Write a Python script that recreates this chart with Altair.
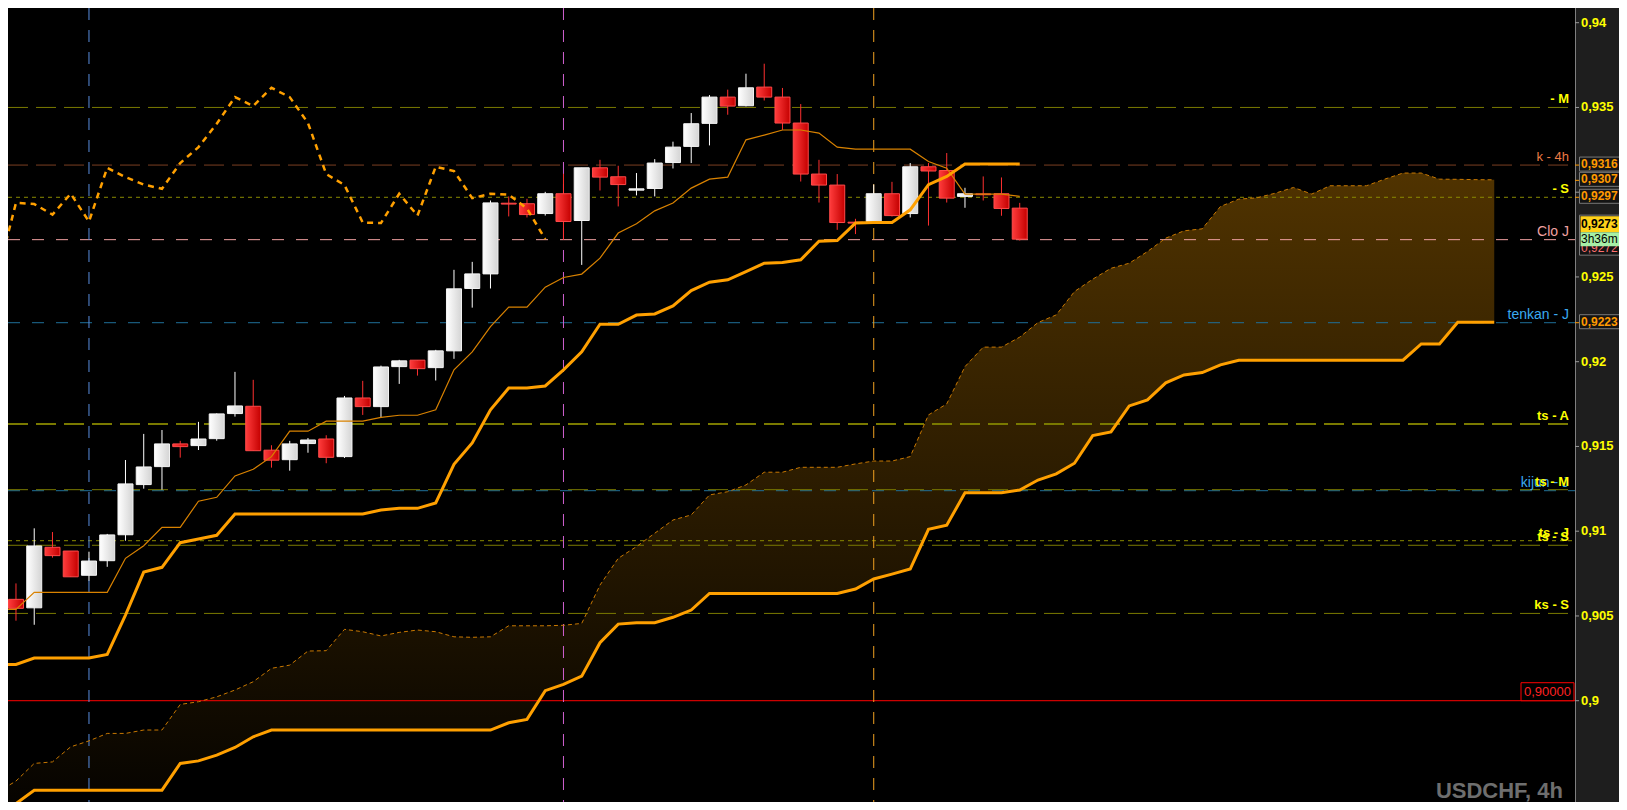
import altair as alt
import pandas as pd

# ---------------------------------------------------------------- data
candle_idx = list(range(56))
opens = [0.90598, 0.90548, 0.90905, 0.90883, 0.90740, 0.90826, 0.90979, 0.91275, 0.91381, 0.91515,
         0.91505, 0.91546, 0.91694, 0.91737, 0.91478, 0.91422, 0.91517, 0.91544, 0.91440, 0.91786,
         0.91735, 0.91971, 0.92009, 0.91965, 0.92064, 0.92432, 0.92518, 0.92935, 0.92932, 0.92874,
         0.92991, 0.92833, 0.93144, 0.93091, 0.93012, 0.93022, 0.93175, 0.93270, 0.93406, 0.93561,
         0.93510, 0.93620, 0.93561, 0.93408, 0.93107, 0.93042, 0.92823, 0.92827, 0.92991, 0.92874,
         0.93150, 0.93128, 0.92975, 0.92990, 0.92991, 0.92906]
highs = [0.90692, 0.91017, 0.90995, 0.90883, 0.90879, 0.90984, 0.91420, 0.91574, 0.91597, 0.91533,
         0.91645, 0.91695, 0.91940, 0.91893, 0.91507, 0.91533, 0.91550, 0.91566, 0.91798, 0.91887,
         0.91977, 0.92011, 0.92009, 0.92070, 0.92542, 0.92589, 0.92951, 0.92975, 0.92961, 0.93002,
         0.93109, 0.93144, 0.93191, 0.93156, 0.93113, 0.93195, 0.93298, 0.93467, 0.93573, 0.93605,
         0.93699, 0.93758, 0.93615, 0.93520, 0.93191, 0.93107, 0.92843, 0.93045, 0.93061, 0.93172,
         0.93172, 0.93231, 0.93026, 0.93093, 0.93087, 0.92937]
lows = [0.90472, 0.90448, 0.90844, 0.90731, 0.90708, 0.90790, 0.90944, 0.91251, 0.91245, 0.91434,
        0.91479, 0.91534, 0.91676, 0.91475, 0.91375, 0.91357, 0.91463, 0.91401, 0.91432, 0.91686,
        0.91670, 0.91869, 0.91918, 0.91889, 0.92017, 0.92319, 0.92432, 0.92857, 0.92851, 0.92862,
        0.92719, 0.92571, 0.93010, 0.92916, 0.92981, 0.92975, 0.93140, 0.93172, 0.93276, 0.93457,
        0.93506, 0.93541, 0.93368, 0.93063, 0.92939, 0.92778, 0.92753, 0.92818, 0.92857, 0.92851,
        0.92803, 0.92939, 0.92908, 0.92951, 0.92861, 0.92715]
closes = [0.90545, 0.90913, 0.90856, 0.90731, 0.90824, 0.90978, 0.91279, 0.91379, 0.91515, 0.91499,
          0.91544, 0.91692, 0.91739, 0.91475, 0.91419, 0.91515, 0.91538, 0.91436, 0.91786, 0.91735,
          0.91969, 0.92005, 0.91959, 0.92064, 0.92430, 0.92518, 0.92937, 0.92930, 0.92868, 0.92991,
          0.92827, 0.93144, 0.93089, 0.93045, 0.93020, 0.93172, 0.93266, 0.93404, 0.93561, 0.93508,
          0.93616, 0.93561, 0.93408, 0.93107, 0.93042, 0.92821, 0.92818, 0.92991, 0.92862, 0.93150,
          0.93125, 0.92965, 0.92991, 0.92985, 0.92904, 0.92723]

line_idx = list(range(-1, 56))
tenkan = [0.90539, 0.90539, 0.90639, 0.90639, 0.90639, 0.90639, 0.90639, 0.90840, 0.90914, 0.91023,
          0.91023, 0.91177, 0.91200, 0.91326, 0.91365, 0.91440, 0.91590, 0.91590, 0.91649, 0.91649,
          0.91649, 0.91672, 0.91684, 0.91684, 0.91716, 0.91952, 0.92058, 0.92207, 0.92322, 0.92322,
          0.92440, 0.92497, 0.92517, 0.92611, 0.92759, 0.92814, 0.92890, 0.92936, 0.93024, 0.93077,
          0.93089, 0.93309, 0.93337, 0.93367, 0.93367, 0.93349, 0.93266, 0.93254, 0.93254, 0.93254,
          0.93254, 0.93181, 0.93142, 0.92989, 0.92989, 0.92989, 0.92975]
kijun = [0.90214, 0.90214, 0.90252, 0.90252, 0.90252, 0.90252, 0.90273, 0.90505, 0.90759, 0.90787,
         0.90932, 0.90954, 0.90976, 0.91102, 0.91102, 0.91102, 0.91102, 0.91102, 0.91102, 0.91102,
         0.91102, 0.91125, 0.91135, 0.91135, 0.91167, 0.91395, 0.91521, 0.91716, 0.91845, 0.91845,
         0.91857, 0.91952, 0.92058, 0.92221, 0.92221, 0.92275, 0.92282, 0.92329, 0.92420, 0.92469,
         0.92483, 0.92532, 0.92581, 0.92585, 0.92601, 0.92711, 0.92715, 0.92818, 0.92821, 0.92821,
         0.92896, 0.93044, 0.93093, 0.93166, 0.93166, 0.93166, 0.93166]

cloud_idx = list(range(-1, 82))
senkou_a = [0.89461, 0.89526, 0.89630, 0.89639, 0.89728, 0.89763, 0.89807, 0.89807, 0.89827, 0.89827,
            0.89978, 0.89994, 0.90023, 0.90063, 0.90112, 0.90191, 0.90210, 0.90293, 0.90295, 0.90421,
            0.90407, 0.90382, 0.90403, 0.90417, 0.90407, 0.90377, 0.90374, 0.90377, 0.90442, 0.90442,
            0.90442, 0.90445, 0.90456, 0.90682, 0.90840, 0.90909, 0.90988, 0.91066, 0.91096, 0.91214,
            0.91233, 0.91273, 0.91348, 0.91348, 0.91377, 0.91377, 0.91377, 0.91397, 0.91414, 0.91414,
            0.91440, 0.91686, 0.91751, 0.91971, 0.92086, 0.92086, 0.92145, 0.92231, 0.92276, 0.92414,
            0.92487, 0.92551, 0.92581, 0.92650, 0.92729, 0.92772, 0.92784, 0.92916, 0.92959, 0.92967,
            0.92994, 0.93028, 0.92989, 0.93038, 0.93038, 0.93038, 0.93077, 0.93113, 0.93113, 0.93077,
            0.93076, 0.93074, 0.93073]
senkou_b = [0.89343, 0.89393, 0.89472, 0.89472, 0.89472, 0.89472, 0.89472, 0.89472, 0.89472, 0.89472,
            0.89630, 0.89645, 0.89679, 0.89724, 0.89787, 0.89827, 0.89827, 0.89827, 0.89827, 0.89827,
            0.89827, 0.89827, 0.89827, 0.89827, 0.89827, 0.89827, 0.89827, 0.89827, 0.89870, 0.89890,
            0.90059, 0.90096, 0.90145, 0.90342, 0.90452, 0.90460, 0.90460, 0.90492, 0.90535, 0.90633,
            0.90633, 0.90633, 0.90633, 0.90633, 0.90633, 0.90633, 0.90633, 0.90659, 0.90718, 0.90747,
            0.90777, 0.91011, 0.91035, 0.91227, 0.91227, 0.91227, 0.91243, 0.91302, 0.91338, 0.91401,
            0.91564, 0.91586, 0.91739, 0.91775, 0.91875, 0.91922, 0.91936, 0.91981, 0.92009, 0.92009,
            0.92009, 0.92009, 0.92009, 0.92009, 0.92009, 0.92009, 0.92009, 0.92009, 0.92105, 0.92105,
            0.92233, 0.92233, 0.92233]

chikou_idx = list(range(-1, 30))
chikou = [0.92518, 0.92937, 0.92930, 0.92868, 0.92991, 0.92827, 0.93144, 0.93089, 0.93045, 0.93020,
          0.93172, 0.93266, 0.93404, 0.93561, 0.93508, 0.93616, 0.93561, 0.93408, 0.93107, 0.93042,
          0.92821, 0.92818, 0.92991, 0.92862, 0.93150, 0.93125, 0.92965, 0.92991, 0.92985, 0.92904,
          0.92723]

vline_idx = [4, 30, 47]

level_prices = [0.935, 0.9316, 0.9297, 0.9272, 0.9223, 0.91633, 0.91239, 0.91245, 0.90944, 0.90917, 0.90515]
level_labels = ["- M", "k - 4h", "- S", "Clo J", "tenkan - J", "ts - A", "kijun - J", "ts - M", "ts - J", "ts - S", "ks - S"]
round_level = 0.90
round_label = "0,90000"

tick_values = [0.94, 0.935, 0.93, 0.925, 0.92, 0.915, 0.91, 0.905, 0.90]
label_values = [0.94, 0.935, 0.925, 0.92, 0.915, 0.91, 0.905, 0.90]
label_texts = ["0,94", "0,935", "0,925", "0,92", "0,915", "0,91", "0,905", "0,9"]

box_prices = [0.9316, 0.9307, 0.9297, 0.9223]
box_labels = ["0,9316", "0,9307", "0,9297", "0,9223"]
bid_price = 0.92723
bid_label = "0,9273"
close_label = "0,9272"
timer_label = "3h36m"
watermark = "USDCHF, 4h"

# ---------------------------------------------------------------- layout
W, H = 1611, 794
PANEL_X = 1567
STEP = 18.364
X0 = 3.0
FONT = "Liberation Sans"
XS = alt.Scale(domain=[-X0 / STEP, (W - X0) / STEP], nice=False, zero=False)
YS = alt.Scale(domain=[0.894024, 0.940867], nice=False, zero=False)

LEVEL_STYLE = {
    "- M":        ("#7a7a00", [20, 8], 1.0, "#ffff00", "bold", 13),
    "k - 4h":     ("#7a3f22", [20, 8], 1.0, "#ec7b45", "normal", 13),
    "- S":        ("#8a8a00", [4, 4], 1.0, "#ffff00", "bold", 13),
    "Clo J":      ("#f0a0a0", [12, 12], 1.0, "#f0a0a0", "normal", 14),
    "tenkan - J": ("#1f6f99", [12, 12], 1.0, "#3aaaf0", "normal", 14),
    "ts - A":     ("#7a7a00", [20, 8], 2.0, "#ffff00", "bold", 13),
    "kijun - J":  ("#1f6f99", [12, 12], 1.0, "#3aaaf0", "normal", 14),
    "ts - M":     ("#7a7a00", [20, 8], 1.0, "#ffff00", "bold", 13),
    "ts - J":     ("#8a8a00", [4, 4], 1.0, "#ffff00", "bold", 13),
    "ts - S":     ("#7a7a00", [20, 8], 1.0, "#ffff00", "bold", 13),
    "ks - S":     ("#7a7a00", [20, 8], 1.0, "#ffff00", "bold", 13),
}
VLINE_COLORS = ["#5a8ee0", "#d060d0", "#f0a020"]

LABEL_X = PANEL_X - 6
AXIS_TEXT_X = PANEL_X + 6
BOX_X = PANEL_X + 4

one = pd.DataFrame({"k": [0]})


def yq(field):
    return alt.Y(field, type="quantitative", scale=YS, axis=None)


def xq(field):
    return alt.X(field, type="quantitative", scale=XS, axis=None)


layers = []

# cloud
cloud = pd.DataFrame({"n": cloud_idx, "a": senkou_a, "b": senkou_b})
layers.append(
    alt.Chart(cloud).mark_area(
        clip=True, opacity=1,
        fill=alt.Gradient(gradient="linear", x1=0, x2=0, y1=0, y2=1,
                          stops=[alt.GradientStop(offset=0, color="#503300"),
                                 alt.GradientStop(offset=1, color="#050300")]),
    ).encode(x=xq("n"), y=yq("a"), y2=alt.Y2("b"))
)

# horizontal levels
for p, lab in zip(level_prices, level_labels):
    lc, dash, lw, _, _, _ = LEVEL_STYLE[lab]
    df = pd.DataFrame({"p": [p]})
    layers.append(
        alt.Chart(df).mark_rule(color=lc, strokeDash=dash, strokeWidth=lw).encode(
            y=yq("p"), x=alt.value(0), x2=alt.value(PANEL_X))
    )
layers.append(
    alt.Chart(pd.DataFrame({"p": [round_level]})).mark_rule(color="#ff0000", strokeWidth=1).encode(
        y=yq("p"), x=alt.value(0), x2=alt.value(PANEL_X))
)

# vertical separators
for n, c in zip(vline_idx, VLINE_COLORS):
    layers.append(
        alt.Chart(pd.DataFrame({"n": [n]})).mark_rule(color=c, strokeDash=[12, 10], strokeWidth=1).encode(
            x=xq("n"), y=alt.value(0), y2=alt.value(H))
    )

# candles
cdf = pd.DataFrame({"n": candle_idx, "o": opens, "h": highs, "l": lows, "c": closes})
bull = cdf[cdf["c"] >= cdf["o"]]
bear = cdf[cdf["c"] < cdf["o"]]
layers.append(alt.Chart(bull).mark_rule(color="#ffffff", strokeWidth=1).encode(
    x=xq("n"), y=yq("l"), y2=alt.Y2("h")))
layers.append(alt.Chart(bear).mark_rule(color="#ff3030", strokeWidth=1).encode(
    x=xq("n"), y=yq("l"), y2=alt.Y2("h")))
layers.append(alt.Chart(bull).mark_bar(
    size=15, opacity=1, stroke="#f4f4f4", strokeWidth=1,
    fill=alt.Gradient(gradient="linear", x1=0, x2=1, y1=0, y2=0,
                      stops=[alt.GradientStop(offset=0, color="#ffffff"),
                             alt.GradientStop(offset=1, color="#d4d4d4")]),
).encode(x=xq("n"), y=yq("o"), y2=alt.Y2("c")))
layers.append(alt.Chart(bear).mark_bar(
    size=15, opacity=1, stroke="#ff4a4a", strokeWidth=1,
    fill=alt.Gradient(gradient="linear", x1=0, x2=1, y1=0, y2=0,
                      stops=[alt.GradientStop(offset=0, color="#ff3c3c"),
                             alt.GradientStop(offset=1, color="#c40000")]),
).encode(x=xq("n"), y=yq("o"), y2=alt.Y2("c")))

# ichimoku lines
layers.append(alt.Chart(cloud).mark_line(clip=True, color="#c87800", strokeWidth=1, strokeDash=[4, 3]).encode(
    x=xq("n"), y=yq("a")))
layers.append(alt.Chart(cloud).mark_line(clip=True, color="#ffa000", strokeWidth=3).encode(
    x=xq("n"), y=yq("b")))
chk = pd.DataFrame({"n": chikou_idx, "v": chikou})
layers.append(alt.Chart(chk).mark_line(clip=True, color="#ffa000", strokeWidth=2.5, strokeDash=[6, 5]).encode(
    x=xq("n"), y=yq("v")))
tk = pd.DataFrame({"n": line_idx, "t": tenkan, "k": kijun})
layers.append(alt.Chart(tk).mark_line(clip=True, color="#d98200", strokeWidth=1.2).encode(
    x=xq("n"), y=yq("t")))
layers.append(alt.Chart(tk).mark_line(clip=True, color="#ffa000", strokeWidth=3).encode(
    x=xq("n"), y=yq("k")))

# level labels
for p, lab in zip(level_prices, level_labels):
    _, _, _, tc, fw, fs = LEVEL_STYLE[lab]
    df = pd.DataFrame({"p": [p], "t": [lab]})
    layers.append(
        alt.Chart(df).mark_text(align="right", baseline="bottom", dy=-1, color=tc, fontWeight=fw,
                                fontSize=fs, font=FONT).encode(
            y=yq("p"), x=alt.value(LABEL_X), text="t:N")
    )

# round number box
rdf = pd.DataFrame({"p": [round_level], "t": [round_label]})
layers.append(alt.Chart(rdf).mark_rect(fill="#000000", stroke="#ff0000", strokeWidth=1,
                                       yOffset=-18, y2Offset=0).encode(
    y=yq("p"), y2=alt.Y2("p"), x=alt.value(PANEL_X - 54), x2=alt.value(PANEL_X - 1)))
layers.append(alt.Chart(rdf).mark_text(align="center", baseline="middle", dy=-9, color="#ff2020",
                                       fontSize=13, font=FONT).encode(
    y=yq("p"), x=alt.value(PANEL_X - 27.5), text="t:N"))

# price panel
layers.append(alt.Chart(one).mark_rect(fill="#1e1e1e").encode(
    x=alt.value(PANEL_X), x2=alt.value(W), y=alt.value(0), y2=alt.value(H)))
layers.append(alt.Chart(one).mark_rule(color="#7f7f7f", strokeWidth=1).encode(
    x=alt.value(PANEL_X + 0.5), y=alt.value(0), y2=alt.value(H)))
tdf = pd.DataFrame({"p": tick_values})
layers.append(alt.Chart(tdf).mark_rule(color="#9a9a9a", strokeWidth=1).encode(
    y=yq("p"), x=alt.value(PANEL_X), x2=alt.value(PANEL_X + 4)))
ldf = pd.DataFrame({"p": label_values, "t": label_texts})
layers.append(alt.Chart(ldf).mark_text(align="left", baseline="middle", color="#ffff00", fontWeight="bold",
                                       fontSize=13, font=FONT).encode(
    y=yq("p"), x=alt.value(AXIS_TEXT_X), text="t:N"))

# orange price boxes
bdf = pd.DataFrame({"p": box_prices, "t": box_labels})
layers.append(alt.Chart(bdf).mark_rect(fill="#141414", stroke="#7a7a7a", strokeWidth=1,
                                       yOffset=-8, y2Offset=6).encode(
    y=yq("p"), y2=alt.Y2("p"), x=alt.value(BOX_X + 0.5), x2=alt.value(W + 10)))
layers.append(alt.Chart(bdf).mark_rule(color="#ff9a00", strokeWidth=1).encode(
    y=yq("p"), x=alt.value(PANEL_X), x2=alt.value(PANEL_X + 4)))
layers.append(alt.Chart(bdf).mark_text(align="left", baseline="middle", dy=-1, color="#ff9a00",
                                       fontWeight="bold", fontSize=12, font=FONT).encode(
    y=yq("p"), x=alt.value(AXIS_TEXT_X), text="t:N"))

# bid / close / timer boxes
bid = pd.DataFrame({"p": [bid_price], "a": [bid_label], "c": [close_label], "t": [timer_label]})
layers.append(alt.Chart(bid).mark_rect(fill="#141414", stroke="#7a7a7a", strokeWidth=1,
                                       yOffset=-24, y2Offset=16).encode(
    y=yq("p"), y2=alt.Y2("p"), x=alt.value(BOX_X + 0.5), x2=alt.value(W + 10)))
layers.append(alt.Chart(bid).mark_text(align="left", baseline="middle", dy=9, color="#ff7070",
                                       fontSize=12, font=FONT).encode(
    y=yq("p"), x=alt.value(AXIS_TEXT_X), text="c:N"))
layers.append(alt.Chart(bid).mark_rect(fill="#ffd21a", yOffset=-23, y2Offset=-7).encode(
    y=yq("p"), y2=alt.Y2("p"), x=alt.value(BOX_X + 1.5), x2=alt.value(W + 10)))
layers.append(alt.Chart(bid).mark_text(align="left", baseline="middle", dy=-15, color="#000000",
                                       fontWeight="bold", fontSize=12, font=FONT).encode(
    y=yq("p"), x=alt.value(AXIS_TEXT_X), text="a:N"))
layers.append(alt.Chart(bid).mark_rect(fill="#a6f0a6", yOffset=-7, y2Offset=7).encode(
    y=yq("p"), y2=alt.Y2("p"), x=alt.value(BOX_X + 1.5), x2=alt.value(W + 10)))
layers.append(alt.Chart(bid).mark_text(align="left", baseline="middle", dy=0, color="#000000",
                                       fontSize=12, font=FONT).encode(
    y=yq("p"), x=alt.value(AXIS_TEXT_X), text="t:N"))

# watermark
layers.append(alt.Chart(pd.DataFrame({"t": [watermark]})).mark_text(
    align="right", baseline="middle", color="#6e6e6e", fontWeight="bold", fontSize=22, font=FONT).encode(
    x=alt.value(PANEL_X - 12), y=alt.value(783), text="t:N"))

chart = alt.layer(*layers).properties(
    width=W, height=H, padding=0,
    autosize=alt.AutoSizeParams(type="none"),
    background="#000000",
).configure_view(stroke=None)

chart.save("out.html", embed_options={"renderer": "svg", "actions": False})
